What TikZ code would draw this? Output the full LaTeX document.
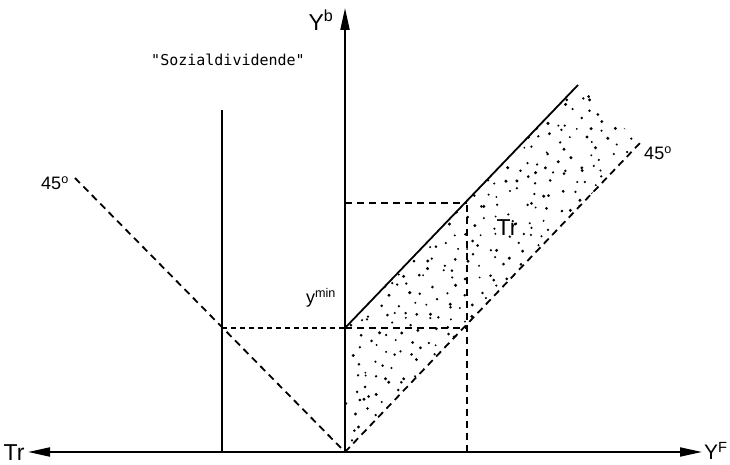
\documentclass[tikz,border=0pt]{standalone}
\usepackage{fontspec}
\setmainfont{Liberation Sans}
\newfontfamily\monofont{DejaVu Sans Mono}
\usetikzlibrary{arrows.meta}
\begin{document}
\begin{tikzpicture}[x=1pt,y=1pt,
  axis/.style={line width=2pt,-{Triangle[length=22pt,width=9pt]}},
  solidline/.style={line width=1.8pt},
  dashline/.style={line width=1.8pt,dash pattern=on 7pt off 5pt},
  shortdash/.style={line width=1.8pt,dash pattern=on 5pt off 4pt},
  lab/.style={inner sep=0pt,font=\fontsize{23}{25}\selectfont},
  smalllab/.style={inner sep=0pt,font=\fontsize{18}{20}\selectfont}]
\useasboundingbox (0,0) rectangle (730,465);
\coordinate (O) at (345,13);
\coordinate (XL) at (28,13);
\coordinate (XR) at (702,13);
\coordinate (YT) at (345,457);
\coordinate (VB) at (222,13);
\coordinate (VT) at (222,355);
\coordinate (L45) at (75,287);
\coordinate (A) at (345,137);
\coordinate (H0) at (222,137);
\coordinate (B) at (467,137);
\coordinate (C) at (467,262);
\coordinate (CL) at (345,262);
\coordinate (BB) at (467,13);
\coordinate (S) at (578,380);
\coordinate (D) at (640,322);
% stipple
\begin{scope}
\clip (A) -- (S) -- (D) -- (O) -- cycle;
\pgfmathsetseed{11}
\foreach \i in {1,...,750}{
  \pgfmathsetmacro\u{mod(0.5+\i*0.7548776662,1)}
  \pgfmathsetmacro\v{mod(0.5+\i*0.5698402910,1)}
  \pgfmathsetmacro\px{350+285*\u+5*rand}
  \pgfmathsetmacro\py{18+358*\v+5*rand}
  \pgfmathsetmacro\r{1.0+0.7*rnd}
  \fill (\px,\py) circle (\r);
}
\end{scope}
% axes
\draw[axis] (O) -- (XR);
\draw[axis] (O) -- (XL);
\draw[axis] (O) -- (YT);
% lines
\draw[solidline] (VB) -- (VT);
\draw[dashline] (L45) -- (O);
\draw[shortdash] (H0) -- (A);
\draw[dashline] (A) -- (B);
\draw[solidline] (A) -- (S);
\draw[dashline] (O) -- (D);
\draw[dashline] (BB) -- (C);
\draw[dashline] (CL) -- (C);
% labels
\node[lab] (trl) at (14,12) {Tr};
\node[inner sep=0pt,anchor=west,font=\fontsize{21}{23}\selectfont] (yf) at (704,14) {Y\textsuperscript{F}};
\node[lab] (yb) at (321,445) {Y\textsuperscript{b}};
\node[lab] (trm) at (507,237) {Tr};
\node[smalllab] (ymin) at (321,167) {y\textsuperscript{min}};
\node[smalllab] (a45l) at (55,282) {45\textsuperscript{o}};
\node[smalllab] (a45r) at (658,312) {45\textsuperscript{o}};
\node[inner sep=0pt,font=\monofont\fontsize{15}{17}\selectfont] (sd) at (228,405) {"Sozialdividende"};
\end{tikzpicture}
\end{document}
